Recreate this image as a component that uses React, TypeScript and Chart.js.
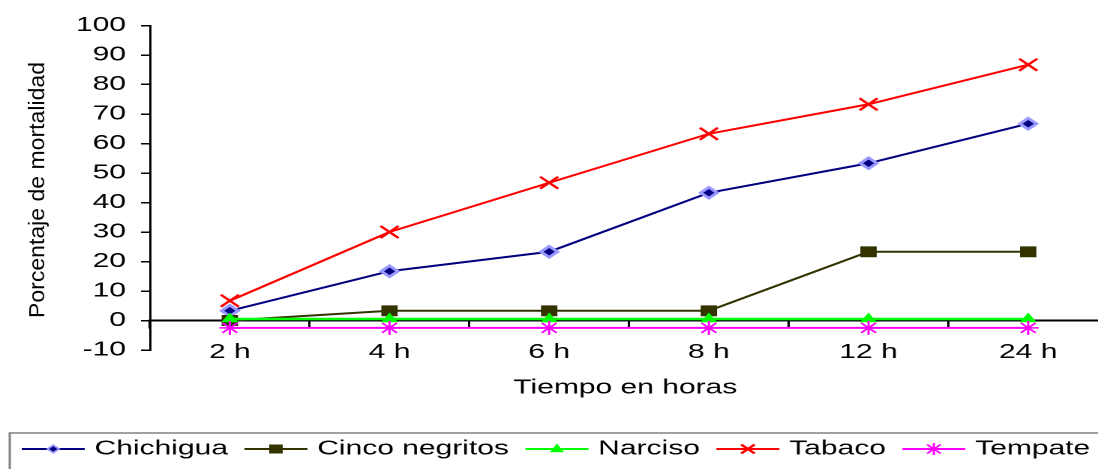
import React, { useEffect, useRef } from "react";
import { Chart, registerables } from "chart.js";

Chart.register(...registerables);

// Categories and series values (percentage of mortality per hour)
const hours = ["2 h", "4 h", "6 h", "8 h", "12 h", "24 h"];
const chichigua = [3.3, 16.7, 23.3, 43.3, 53.3, 66.7];
const cincoNegritos = [0, 3.3, 3.3, 3.3, 23.3, 23.3];
const narciso = [0.5, 0.5, 0.5, 0.5, 0.5, 0.5];
const tabaco = [6.7, 30, 46.7, 63.3, 73.3, 86.7];
const tempate = [-2.5, -2.5, -2.5, -2.5, -2.5, -2.5];

const yMin = -10;
const yMax = 100;
const yStep = 10;

const yTitle = "Porcentaje de mortalidad";
const xTitle = "Tiempo en horas";

const FONT = '"Liberation Sans", Arial, Helvetica, sans-serif';

// Logical drawing size; the wrapper stretches it horizontally.
const W = 742;
const H = 469;
const STRETCH = 1.5;

type Series = {
  label: string;
  data: number[];
  color: string;
  fill: string;
  edge: string;
  style: string;
  radius: number;
  edgeWidth: number;
  lineWidth: number;
};

const series: Series[] = [
  { label: "Chichigua", data: chichigua, color: "#000080", fill: "#000080", edge: "#9999FF", style: "rectRot", radius: 5.5, edgeWidth: 2.5, lineWidth: 2 },
  { label: "Cinco negritos", data: cincoNegritos, color: "#333300", fill: "#333300", edge: "#333300", style: "rect", radius: 7, edgeWidth: 1, lineWidth: 2 },
  { label: "Narciso", data: narciso, color: "#00FF00", fill: "#00FF00", edge: "#00FF00", style: "triangle", radius: 5.5, edgeWidth: 1, lineWidth: 2.5 },
  { label: "Tabaco", data: tabaco, color: "#FF0000", fill: "#FF0000", edge: "#FF0000", style: "crossRot", radius: 8.5, edgeWidth: 2, lineWidth: 2 },
  { label: "Tempate", data: tempate, color: "#FF00FF", fill: "#FF00FF", edge: "#FF00FF", style: "star", radius: 7, edgeWidth: 1.5, lineWidth: 2 },
];

function legendMarker(ctx: CanvasRenderingContext2D, s: Series, x: number, y: number) {
  ctx.save();
  ctx.fillStyle = s.fill;
  ctx.strokeStyle = s.edge;
  ctx.lineWidth = s.style === "rectRot" ? 1.5 : s.edgeWidth;
  ctx.beginPath();
  if (s.style === "rectRot") {
    const r = 3.8;
    ctx.moveTo(x, y - r);
    ctx.lineTo(x + r, y);
    ctx.lineTo(x, y + r);
    ctx.lineTo(x - r, y);
    ctx.closePath();
    ctx.fill();
    ctx.stroke();
  } else if (s.style === "rect") {
    const h = 4.5;
    ctx.rect(x - h, y - h, 2 * h, 2 * h);
    ctx.fill();
  } else if (s.style === "triangle") {
    const r = 5.5;
    ctx.moveTo(x, y - r);
    ctx.lineTo(x + r * 0.87, y + r * 0.6);
    ctx.lineTo(x - r * 0.87, y + r * 0.6);
    ctx.closePath();
    ctx.fill();
  } else if (s.style === "crossRot") {
    const d = 4.5;
    ctx.moveTo(x - d, y - d);
    ctx.lineTo(x + d, y + d);
    ctx.moveTo(x + d, y - d);
    ctx.lineTo(x - d, y + d);
    ctx.stroke();
  } else if (s.style === "star") {
    const d = 4.5;
    const r = 6;
    ctx.moveTo(x - d, y - d);
    ctx.lineTo(x + d, y + d);
    ctx.moveTo(x + d, y - d);
    ctx.lineTo(x - d, y + d);
    ctx.moveTo(x, y - r);
    ctx.lineTo(x, y + r);
    ctx.moveTo(x - r, y);
    ctx.lineTo(x + r, y);
    ctx.stroke();
  }
  ctx.restore();
}

// Axis titles and the boxed legend along the bottom
const decorations = {
  id: "decorations",
  afterDraw(chart: Chart) {
    const ctx = chart.ctx;
    const area = chart.chartArea;

    // rotated y-axis title, condensed along its length
    ctx.save();
    ctx.fillStyle = "#000";
    ctx.font = `15px ${FONT}`;
    ctx.textAlign = "center";
    ctx.textBaseline = "middle";
    const tw = ctx.measureText(yTitle).width;
    ctx.translate(25.3, 190);
    ctx.rotate(-Math.PI / 2);
    ctx.scale(256 / tw, 1);
    ctx.fillText(yTitle, 0, 0);
    ctx.restore();

    // x-axis title
    ctx.save();
    ctx.fillStyle = "#000";
    ctx.font = `20px ${FONT}`;
    ctx.textAlign = "center";
    ctx.textBaseline = "middle";
    ctx.fillText(xTitle, (area.left + area.right) / 2 - 2.5, 388);
    ctx.restore();

    // legend
    ctx.save();
    ctx.strokeStyle = "#808080";
    ctx.lineWidth = 1.5;
    ctx.strokeRect(6.5, 433, chart.width + 20, 80);
    ctx.font = `20px ${FONT}`;
    ctx.textAlign = "left";
    ctx.textBaseline = "middle";
    const ly = 449;
    let x = 14.5;
    for (const s of series) {
      ctx.strokeStyle = s.color;
      ctx.lineWidth = 2;
      ctx.beginPath();
      ctx.moveTo(x, ly);
      ctx.lineTo(x + 42, ly);
      ctx.stroke();
      legendMarker(ctx, s, x + 21, ly);
      const tx = x + 48.5;
      ctx.fillStyle = "#000";
      ctx.fillText(s.label, tx, ly);
      x = tx + ctx.measureText(s.label).width + 11;
    }
    ctx.restore();
  },
};

export default function App() {
  const canvasRef = useRef<HTMLCanvasElement>(null);

  useEffect(() => {
    const canvas = canvasRef.current;
    if (!canvas) return;
    const chart = new Chart(canvas, {
      type: "line",
      data: {
        labels: hours,
        datasets: series.map((s, i) => ({
          label: s.label,
          data: s.data,
          borderColor: s.color,
          backgroundColor: s.fill,
          borderWidth: s.lineWidth,
          pointStyle: s.style as any,
          pointRadius: s.radius,
          pointHoverRadius: s.radius,
          pointBackgroundColor: s.fill,
          pointBorderColor: s.edge,
          pointBorderWidth: s.edgeWidth,
          tension: 0,
          fill: false,
          order: series.length - i,
        })),
      },
      options: {
        responsive: false,
        animation: false,
        devicePixelRatio: 2,
        events: [],
        layout: {
          autoPadding: false,
          padding: { top: 25.5, left: 0, right: W - 738.7, bottom: H - 350 },
        },
        plugins: {
          legend: { display: false },
          tooltip: { enabled: false },
          title: { display: false },
        },
        scales: {
          x: {
            type: "category",
            position: { y: 0 } as any,
            offset: true,
            afterFit: (scale: any) => {
              scale.height = 0;
              scale.paddingLeft = 0;
              scale.paddingRight = 0;
            },
            grid: {
              offset: true,
              drawOnChartArea: false,
              drawTicks: true,
              tickLength: 7,
              color: "#000",
              lineWidth: 1.5,
            },
            border: { display: true, color: "#000", width: 2 },
            ticks: {
              color: "#000",
              padding: 13,
              font: { family: FONT, size: 20 },
              maxRotation: 0,
            },
          },
          y: {
            type: "linear",
            min: yMin,
            max: yMax,
            afterFit: (scale: any) => {
              scale.width = 100;
              scale.paddingTop = 0;
              scale.paddingBottom = 0;
            },
            grid: {
              drawOnChartArea: false,
              drawTicks: true,
              tickLength: 6,
              color: "#000",
              lineWidth: 1.5,
            },
            border: { display: true, color: "#000", width: 1.5 },
            ticks: {
              stepSize: yStep,
              color: "#000",
              padding: 10,
              font: { family: FONT, size: 20 },
            },
          },
        },
      },
      plugins: [decorations],
    });
    return () => chart.destroy();
  }, []);

  return (
    <div
      style={{
        position: "fixed",
        left: 0,
        top: 0,
        width: 1098,
        height: H,
        overflow: "hidden",
        background: "#fff",
      }}
    >
      <div style={{ width: W, height: H, transform: `scaleX(${STRETCH})`, transformOrigin: "0 0" }}>
        <canvas ref={canvasRef} width={W} height={H} style={{ display: "block" }} />
      </div>
    </div>
  );
}
